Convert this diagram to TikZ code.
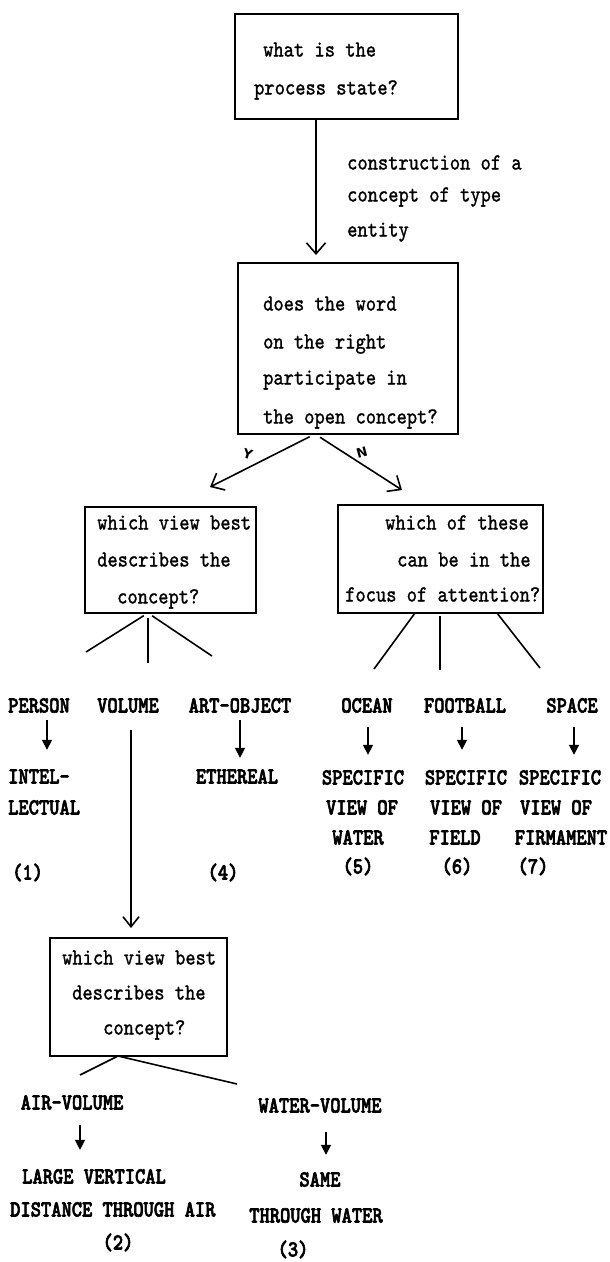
\documentclass[tikz,border=0pt]{standalone}
\usepackage{fontspec}
\usetikzlibrary{arrows.meta}
\newfontfamily\mono[FakeStretch=0.85,FakeBold=1.2]{lmmono10-regular.otf}
\newfontfamily\monob[FakeStretch=0.85,FakeBold=2.6]{lmmonolt10-bold.otf}
\newfontfamily\ynsans{DejaVu Sans Bold}
\newcommand\lcfont{\mono\fontsize{23}{26}\selectfont}
\newcommand\ucfont{\monob\fontsize{23}{26}\selectfont}
\newcommand\ynfont{\ynsans\fontsize{13}{15}\selectfont}
\begin{document}
\begin{tikzpicture}[x=1pt,y=-1pt,
  qbox/.style={draw,line width=1.6pt,inner sep=0pt,outer sep=0pt},
  ltxt/.style={inner sep=0pt,text height=13pt,text depth=0pt,anchor=west,font=\lcfont},
  utxt/.style={inner sep=0pt,text height=13pt,text depth=0pt,font=\ucfont},
  uwtxt/.style={utxt,anchor=west},
  wire/.style={line width=1.6pt},
  barb/.style={line width=1.6pt,-{Straight Barb[length=11pt,width=19pt,line width=1.6pt]}},
  sarrow/.style={line width=1.7pt,-{Triangle[length=10pt,width=10pt]}},
  gap/.style 2 args={shorten <=#1pt,shorten >=#2pt}]
\fill[white] (0,0) rectangle (610,1262);
\useasboundingbox (0,0) rectangle (610,1262);

% question boxes
\node[qbox,minimum width=223pt,minimum height=105pt] (A) at (346.5,66.5) {};
\node[qbox,minimum width=220pt,minimum height=171pt] (B) at (348,348.5) {};
\node[qbox,minimum width=171pt,minimum height=106pt] (C) at (170.5,560) {};
\node[qbox,minimum width=205pt,minimum height=108pt] (D) at (440.5,559) {};
\node[qbox,minimum width=177pt,minimum height=118pt] (E) at (138.5,997) {};

% box texts
\node[ltxt] (a1) at (263,50) {what is the};
\node[ltxt] (a2) at (254,88) {process state?};
\node[ltxt] (b1) at (263,304) {does the word};
\node[ltxt] (b2) at (263,342) {on the right};
\node[ltxt] (b3) at (263,378) {participate in};
\node[ltxt] (b4) at (263,417) {the open concept?};
\node[ltxt] (c1) at (97,523) {which view best};
\node[ltxt] (c2) at (97,560) {describes the};
\node[ltxt] (c3) at (117,597) {concept?};
\node[ltxt] (d1) at (385,523) {which of these};
\node[ltxt] (d2) at (397,560) {can be in the};
\node[ltxt] (d3) at (345,595) {focus of attention?};
\node[ltxt] (e1) at (62,958) {which view best};
\node[ltxt] (e2) at (72,993) {describes the};
\node[ltxt] (e3) at (103,1028) {concept?};

% first transition and its label
\coordinate (xab) at (316,0);
\draw[barb,gap={0}{8}] (xab |- A.south) -- (xab |- B.north);
\node[ltxt] (l1) at (347,163) {construction of a};
\node[ltxt] (l2) at (347,195) {concept of type};
\node[ltxt] (l3) at (347,230) {entity};

% yes / no branches
\coordinate (xyn) at (315,0);
\coordinate (ytip) at (210,487);
\coordinate (ntip) at (402,490);
\draw[barb,gap={6}{0}] (xyn |- B.south) -- (ytip);
\draw[barb,gap={6}{0}] (xyn |- B.south) -- (ntip);
\node[font=\ynfont,inner sep=0pt,rotate=-15] (yl) at (248,454) {Y};
\node[font=\ynfont,inner sep=0pt,rotate=15] (nl) at (362,453) {N};

% fan below the left box
\coordinate (xc) at (148,0);
\coordinate (cL) at (86,652);
\coordinate (cM) at (148,663);
\coordinate (cR) at (212,656);
\draw[wire,gap={5}{0}] (xc |- C.south) -- (cL);
\draw[wire,gap={5}{0}] (xc |- C.south) -- (cM);
\draw[wire,gap={5}{0}] (xc |- C.south) -- (cR);

% fan below the right box
\coordinate (xd1) at (415,0);
\coordinate (xd2) at (440,0);
\coordinate (xd3) at (497,0);
\coordinate (dL) at (374,669);
\coordinate (dM) at (440,670);
\coordinate (dR) at (540,668);
\draw[wire] (xd1 |- D.south) -- (dL);
\draw[wire,gap={3}{0}] (xd2 |- D.south) -- (dM);
\draw[wire] (xd3 |- D.south) -- (dR);

% concept words
\node[uwtxt] (person) at (8,706) {PERSON};
\node[utxt] (volume) at (128,706) {VOLUME};
\node[utxt] (artobj) at (240,706) {ART-OBJECT};
\node[utxt] (ocean) at (367,706) {OCEAN};
\node[utxt] (football) at (465,706) {FOOTBALL};
\node[utxt] (space) at (572,706) {SPACE};

% resulting views
\node[uwtxt] (intel) at (8,777) {INTEL-};
\node[uwtxt] (lect) at (8,808) {LECTUAL};
\node[uwtxt] (n1) at (12,873) {(1)};
\node[utxt] (ether) at (237,777) {ETHEREAL};
\node[utxt] (n4) at (223,873) {(4)};
\node[utxt] (sp1) at (363,778) {SPECIFIC};
\node[utxt] (sp2) at (466,778) {SPECIFIC};
\node[utxt] (sp3) at (560,778) {SPECIFIC};
\node[utxt] (vo1) at (362,808) {VIEW OF};
\node[utxt] (vo2) at (466,808) {VIEW OF};
\node[utxt] (vo3) at (556,808) {VIEW OF};
\node[utxt] (water) at (358,838) {WATER};
\node[utxt] (field) at (455,838) {FIELD};
\node[utxt] (firm) at (561,838) {FIRMAMENT};
\node[utxt] (n5) at (358,867) {(5)};
\node[utxt] (n6) at (457,867) {(6)};
\node[utxt] (n7) at (533,867) {(7)};

% short arrows from words to views
\coordinate (xp) at (47,0);
\coordinate (xa) at (240,0);
\coordinate (xo) at (368,0);
\coordinate (xf) at (462,0);
\coordinate (xs) at (574,0);
\draw[sarrow,gap={7.5}{20.5}] (xp |- person.south) -- (xp |- intel.north);
\draw[sarrow,gap={7.5}{12.5}] (xa |- artobj.south) -- (xa |- ether.north);
\draw[sarrow,gap={14.5}{16.5}] (xo |- ocean.south) -- (xo |- sp1.north);
\draw[sarrow,gap={14.5}{21.5}] (xf |- football.south) -- (xf |- sp2.north);
\draw[sarrow,gap={14.5}{16.5}] (xs |- space.south) -- (xs |- sp3.north);

% volume leads to a further question
\coordinate (xv) at (131,0);
\draw[line width=1.6pt,-{Straight Barb[length=10pt,width=16pt,line width=1.6pt]},gap={17.5}{10}] (xv |- volume.south) -- (xv |- E.north);

% fan below the lower box
\coordinate (xe) at (118,0);
\coordinate (eL) at (80,1075);
\coordinate (eR) at (237,1084);
\draw[wire,gap={1}{0}] (xe |- E.south) -- (eL);
\draw[wire,gap={1}{0}] (xe |- E.south) -- (eR);

% volume views
\node[utxt] (airvol) at (72,1103) {AIR-VOLUME};
\node[uwtxt] (large) at (22,1177) {LARGE VERTICAL};
\node[uwtxt] (dist) at (10,1210) {DISTANCE THROUGH AIR};
\node[utxt] (n2) at (118,1243) {(2)};
\node[utxt] (watvol) at (320,1106) {WATER-VOLUME};
\node[utxt] (same) at (320,1180) {SAME};
\node[utxt] (thw) at (316,1216) {THROUGH WATER};
\node[utxt] (n3) at (293,1250) {(3)};

\coordinate (xav) at (80,0);
\coordinate (xwv) at (326,0);
\draw[sarrow,gap={15.5}{20.5}] (xav |- airvol.south) -- (xav |- large.north);
\draw[sarrow,gap={19.5}{18.5}] (xwv |- watvol.south) -- (xwv |- same.north);
\end{tikzpicture}
\end{document}
